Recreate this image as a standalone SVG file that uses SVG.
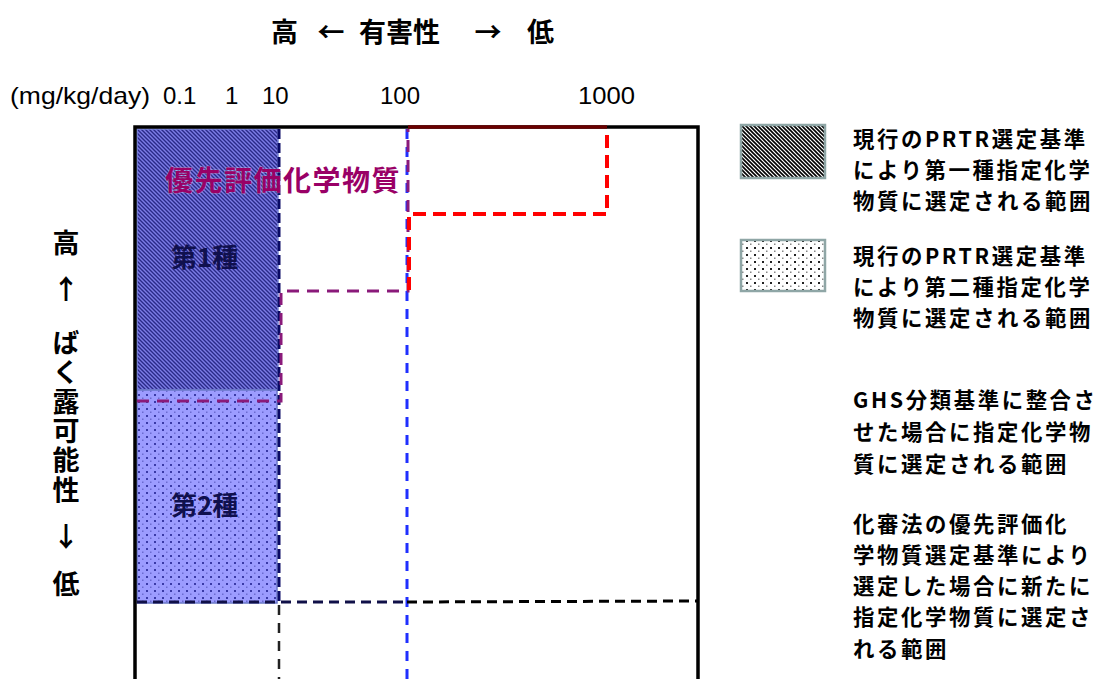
<svg xmlns="http://www.w3.org/2000/svg" width="1115" height="679" viewBox="0 0 1115 679">
<style>
  .jp { font-family: 'Noto Sans CJK JP', 'Noto Sans', sans-serif; font-weight: bold; }
  .num { font-family: 'Liberation Sans', Arial, sans-serif; font-size: 24px; fill: #000; }
  .leg { font-size: 21.4px; fill: #000; letter-spacing: 2.6px; }
  .vt { font-size: 27px; fill: #000; text-anchor: middle; }
  .ttl { font-size: 27px; fill: #000; }
  .kind { font-size: 26px; fill: #10104e; }
</style>
<defs>
  <pattern id="hatchBlue" patternUnits="userSpaceOnUse" width="4" height="4">
    <rect width="4" height="4" fill="#7c7ce6"/>
    <path d="M0,0 L4,4 M-1,3 L1,5 M3,-1 L5,1" stroke="#2a2a88" stroke-width="1.4"/>
  </pattern>
  <pattern id="dotBlue" patternUnits="userSpaceOnUse" width="8" height="7">
    <rect width="8" height="7" fill="#9c9cff"/>
    <rect x="2" y="2" width="2" height="2" fill="#3a3aa6"/>
    <rect x="6" y="5.5" width="1.5" height="1.5" fill="#6a6ad0"/>
  </pattern>
  <pattern id="hatchBlack" patternUnits="userSpaceOnUse" width="4" height="4">
    <rect width="4" height="4" fill="#ffffff"/>
    <path d="M0,0 L4,4 M-1,3 L1,5 M3,-1 L5,1" stroke="#000" stroke-width="1.6"/>
  </pattern>
  <pattern id="dotBlack" patternUnits="userSpaceOnUse" width="8" height="7">
    <rect width="8" height="7" fill="#ffffff"/>
    <rect x="2" y="2" width="2" height="2" fill="#222"/>
    <rect x="6" y="5.5" width="1.5" height="1.5" fill="#888"/>
  </pattern>
</defs>

<g id="title">
  <text class="jp ttl" x="271" y="42">高</text>
  <text class="jp ttl" x="331" y="42" text-anchor="middle">←</text>
  <text class="jp ttl" x="359" y="42">有害性</text>
  <text class="jp ttl" x="488" y="42" text-anchor="middle">→</text>
  <text class="jp ttl" x="527" y="42">低</text>
</g>

<g id="scale">
  <text class="num" x="10" y="104" textLength="140" lengthAdjust="spacingAndGlyphs">(mg/kg/day)</text>
  <text class="num" x="163" y="104">0.1</text>
  <text class="num" x="225" y="104">1</text>
  <text class="num" x="262" y="104">10</text>
  <text class="num" x="380" y="104">100</text>
  <text class="num" x="578" y="104" textLength="57" lengthAdjust="spacingAndGlyphs">1000</text>
</g>

<g id="yaxis">
  <text class="jp vt" x="66" y="253">高</text>
  <text class="jp vt" x="66" y="299">↑</text>
  <text class="jp" x="66" y="329" font-size="27" fill="#000" writing-mode="vertical-rl" letter-spacing="2.4">ばく露可能性</text>
  <text class="jp vt" x="66" y="547">↓</text>
  <text class="jp vt" x="66" y="594">低</text>
</g>

<g id="class1">
  <rect x="137" y="129" width="141" height="261" fill="url(#hatchBlue)" stroke="#7a86d6" stroke-width="1.5"/>
  <text class="jp kind" x="171" y="267">第1種</text>
</g>
<g id="class2">
  <rect x="137" y="390" width="140" height="213" fill="url(#dotBlue)" stroke="#6a78c8" stroke-width="1.5"/>
  <text class="jp kind" x="171" y="515">第2種</text>
</g>

<g id="frame">
  <path d="M135,679 V127 H698 V679" fill="none" stroke="#000" stroke-width="3.5"/>
</g>

<g id="connectors" fill="none">
  <line x1="407" y1="129" x2="407" y2="679" stroke="#1f2fff" stroke-width="3" stroke-dasharray="10 8"/>
  <line x1="279" y1="129" x2="279" y2="603" stroke="#0a0a66" stroke-width="3" stroke-dasharray="10 4"/>
  <line x1="279" y1="605" x2="279" y2="679" stroke="#222" stroke-width="2.5" stroke-dasharray="10 8"/>
  <line x1="137" y1="602" x2="407" y2="602" stroke="#101048" stroke-width="3" stroke-dasharray="10 6"/>
  <line x1="407" y1="602" x2="698" y2="601" stroke="#000" stroke-width="3" stroke-dasharray="10 6"/>
  <path d="M137,401 H281 V291 H408 V129" stroke="#8a1a7a" stroke-width="3" stroke-dasharray="12 8"/>
  <path d="M409,290 V214 H607 V129" stroke="#ff0000" stroke-width="4" stroke-dasharray="13 7"/>
  <line x1="408" y1="127" x2="607" y2="127" stroke="#6a0000" stroke-width="3.5"/>
</g>

<g id="priority">
  <text class="jp" x="165" y="191" font-size="28" fill="#990066" letter-spacing="1.5" stroke="#ffffff" stroke-opacity="0.35" stroke-width="1.2" paint-order="stroke">優先評価化学物質</text>
</g>

<g id="legend1">
  <rect x="741" y="125" width="84" height="53" fill="url(#hatchBlack)" stroke="#8fa6a6" stroke-width="2.5"/>
  <text class="jp leg" x="853" y="147"><tspan x="853">現行のPRTR選定基準</tspan><tspan x="853" dy="31">により第一種指定化学</tspan><tspan x="853" dy="31">物質に選定される範囲</tspan></text>
</g>
<g id="legend2">
  <rect x="741" y="240" width="84" height="51" fill="url(#dotBlack)" stroke="#8fa6a6" stroke-width="2.5"/>
  <text class="jp leg" x="853" y="264"><tspan x="853">現行のPRTR選定基準</tspan><tspan x="853" dy="31">により第二種指定化学</tspan><tspan x="853" dy="31">物質に選定される範囲</tspan></text>
</g>
<g id="legend3">
  <text class="jp leg" x="853" y="408"><tspan x="853">GHS分類基準に整合さ</tspan><tspan x="853" dy="32">せた場合に指定化学物</tspan><tspan x="853" dy="32">質に選定される範囲</tspan></text>
</g>
<g id="legend4">
  <text class="jp leg" x="853" y="532"><tspan x="853">化審法の優先評価化</tspan><tspan x="853" dy="31">学物質選定基準により</tspan><tspan x="853" dy="31">選定した場合に新たに</tspan><tspan x="853" dy="31">指定化学物質に選定さ</tspan><tspan x="853" dy="32">れる範囲</tspan></text>
</g>
</svg>
